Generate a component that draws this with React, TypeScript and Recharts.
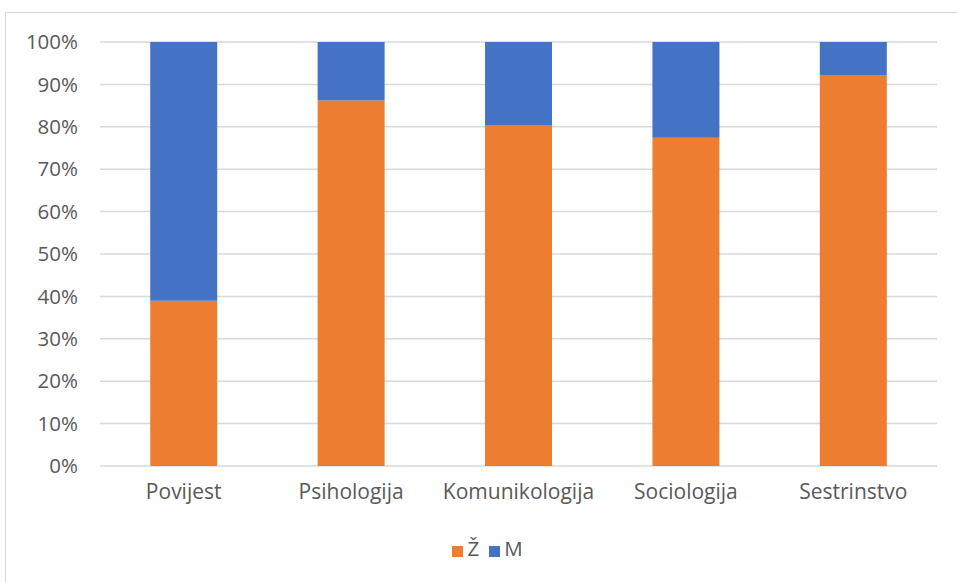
import React from 'react';
import { BarChart, Bar, XAxis, YAxis, CartesianGrid, Legend } from 'recharts';

const subjects = ['Povijest', 'Psihologija', 'Komunikologija', 'Sociologija', 'Sestrinstvo'];
const zene = [39.0, 86.2, 80.4, 77.4, 92.2];
const muski = [61.0, 13.8, 19.6, 22.6, 7.8];
const yTicks = [0, 10, 20, 30, 40, 50, 60, 70, 80, 90, 100];
const legendOrder = ['z', 'm'];

const data = subjects.map((name, i) => ({ name, z: zene[i], m: muski[i] }));

const FONT = '"Open Sans", sans-serif';

export default function App() {
    return (
        <div style={{ position: 'absolute', left: 0, top: 0, width: 957, height: 582, overflow: 'hidden', background: '#fff' }}>
            {/* chart frame, runs off the right and bottom edges */}
            <div style={{ position: 'absolute', left: 5, top: 12, width: 1000, height: 1000, border: '1.5px solid #d9d9d9' }} />
            <BarChart
                width={957}
                height={582}
                data={data}
                margin={{ top: 42, right: 20, left: 0, bottom: 28 }}
                barCategoryGap="30%"
                style={{ position: 'absolute', left: 0, top: 0, fontFamily: FONT }}
            >
                <CartesianGrid vertical={false} stroke="#d9d9d9" strokeWidth={1.5} />
                <XAxis
                    dataKey="name"
                    axisLine={false}
                    tickLine={false}
                    tickMargin={12}
                    height={60}
                    tick={{ fill: '#595959', fontSize: 21, fontFamily: FONT }}
                />
                <YAxis
                    width={100}
                    domain={[0, 100]}
                    ticks={yTicks}
                    tickFormatter={(v) => `${v}%`}
                    axisLine={false}
                    tickLine={false}
                    tickMargin={16}
                    tick={{ fill: '#595959', fontSize: 20.5, fontFamily: FONT }}
                />
                <Legend
                    verticalAlign="bottom"
                    iconType="square"
                    iconSize={11}
                    wrapperStyle={{ bottom: 20, left: 24 }}
                    itemSorter={(item: any) => legendOrder.indexOf(item.dataKey)}
                    formatter={(value) => <span style={{ color: '#595959', fontSize: 20.5, fontFamily: FONT }}>{value}</span>}
                />
                <Bar dataKey="z" name="Ž" stackId="a" fill="#ED7D31" isAnimationActive={false} />
                <Bar dataKey="m" name="M" stackId="a" fill="#4472C4" isAnimationActive={false} />
            </BarChart>
        </div>
    );
}
